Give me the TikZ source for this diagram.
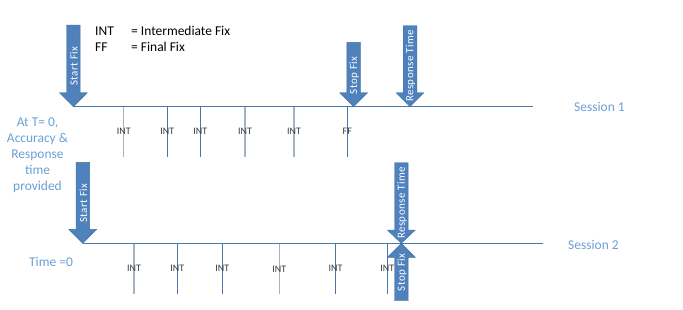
\documentclass[tikz,border=0pt]{standalone}
\usepackage{fontspec}
\setmainfont{Carlito}
\definecolor{arrfill}{HTML}{4F81BD}
\definecolor{arrdraw}{HTML}{41719C}
\definecolor{linecol}{HTML}{4A76A8}
\definecolor{greytick}{HTML}{A3B3C4}
\definecolor{lblue}{HTML}{6A9FD6}
\definecolor{inttxt}{HTML}{3A3A3A}
\newcommand{\dnarr}[5]{% cx, top, headstart, tip, name
  \fill[arrfill,draw=arrdraw,line width=0.4pt] (#1-6.8,#2) -- (#1+6.8,#2) -- (#1+6.8,#3) -- (#1+14,#3) -- (#1,#4) -- (#1-14,#3) -- (#1-6.8,#3) -- cycle;
  \coordinate (#5) at (#1,#4);}
\newcommand{\uparr}[5]{% cx, bottom, headstart, tip, name
  \fill[arrfill,draw=arrdraw,line width=0.4pt] (#1-6.8,#2) -- (#1+6.8,#2) -- (#1+6.8,#3) -- (#1+14,#3) -- (#1,#4) -- (#1-14,#3) -- (#1-6.8,#3) -- cycle;
  \coordinate (#5) at (#1,#4);}
\tikzset{
  arrlabel/.style={rotate=90,text=white,font=\fontsize{11}{12}\addfontfeatures{LetterSpace=4}\selectfont,inner sep=0pt},
  tline/.style={draw=linecol,line width=1pt},
  btick/.style={draw=linecol,line width=1pt},
  gtick/.style={draw=greytick,line width=1.4pt},
  intlbl/.style={text=inttxt,font=\fontsize{10}{12}\selectfont,inner sep=0pt},
  sidetxt/.style={text=lblue,font=\fontsize{13.5}{16}\selectfont,inner sep=0pt,align=center},
  legtxt/.style={text=black,font=\fontsize{13.5}{15}\selectfont,inner sep=0pt,anchor=west},
}
\begin{document}
\begin{tikzpicture}[x=1bp,y=-1bp]
\useasboundingbox (0,0) rectangle (683,309);
% ---------- Session 1 ----------
\coordinate (s1a) at (72.7,106.7);
\coordinate (s1b) at (532.7,106.7);
\foreach \x/\st [count=\i] in {123.7/gtick,167.3/btick,200.3/btick,245/gtick,294/gtick}{
  \coordinate (t1top\i) at (\x,106.7);
  \coordinate (t1bot\i) at (\x,156.7);
  \draw[\st] (t1top\i) -- (t1bot\i);
  \node[intlbl] (int1\i) at (\x,131.7) {INT};
}
\coordinate (fftop) at (347.3,106.7);
\coordinate (ffbot) at (347.3,156.7);
\draw[btick] (fftop) -- (ffbot);
\node[intlbl] (ff1) at (347.3,131.7) {FF};
\draw[tline] (s1a) -- (s1b);
\dnarr{73.3}{25}{92.7}{106.7}{sf1}
\node[arrlabel] (sf1l) at (74,66) {Start Fix};
\dnarr{353.7}{42.3}{92.7}{106.7}{stf1}
\node[arrlabel] (stf1l) at (354.3,75.5) {Stop Fix};
\dnarr{410}{25.7}{92.7}{106.7}{rt1}
\node[arrlabel] (rt1l) at (410.5,66) {Response Time};
\node[sidetxt,anchor=west] (ses1) at (574,107) {Session 1};
% ---------- legend ----------
\node[legtxt] (lg1a) at (95,31) {INT};
\node[legtxt] (lg1b) at (131,31) {= Intermediate Fix};
\node[legtxt] (lg2a) at (95,46.7) {FF};
\node[legtxt] (lg2b) at (131,46.7) {= Final Fix};
% ---------- left text ----------
\node[sidetxt] (atT) at (37.5,155.5) {At T= 0,\\Accuracy \&\\Response\\time\\provided};
\node[sidetxt,anchor=west] (time0) at (29,261.7) {Time =0};
% ---------- Session 2 ----------
\coordinate (s2a) at (82.7,243.3);
\coordinate (s2b) at (542.7,243.3);
\foreach \x/\st/\yy [count=\i] in {134/gtick/268.3,177.3/btick/268.3,222.3/btick/268.3,279.3/gtick/269.3,335.5/btick/268.3,387.3/btick/268.3}{
  \coordinate (t2top\i) at (\x,243.3);
  \coordinate (t2bot\i) at (\x,294);
  \draw[\st] (t2top\i) -- (t2bot\i);
  \node[intlbl] (int2\i) at (\x,\yy) {INT};
}
\draw[tline] (s2a) -- (s2b);
\dnarr{82.8}{162.3}{229.3}{243.3}{sf2}
\node[arrlabel] (sf2l) at (83.5,203.3) {Start Fix};
\dnarr{401.3}{162.7}{230}{243.3}{rt2}
\node[arrlabel] (rt2l) at (402,203) {Response Time};
\uparr{401.3}{300.7}{257.3}{243.3}{stf2}
\node[arrlabel] (stf2l) at (402,272.5) {Stop Fix};
\node[sidetxt,anchor=west] (ses2) at (568,245.3) {Session 2};
\end{tikzpicture}
\end{document}
